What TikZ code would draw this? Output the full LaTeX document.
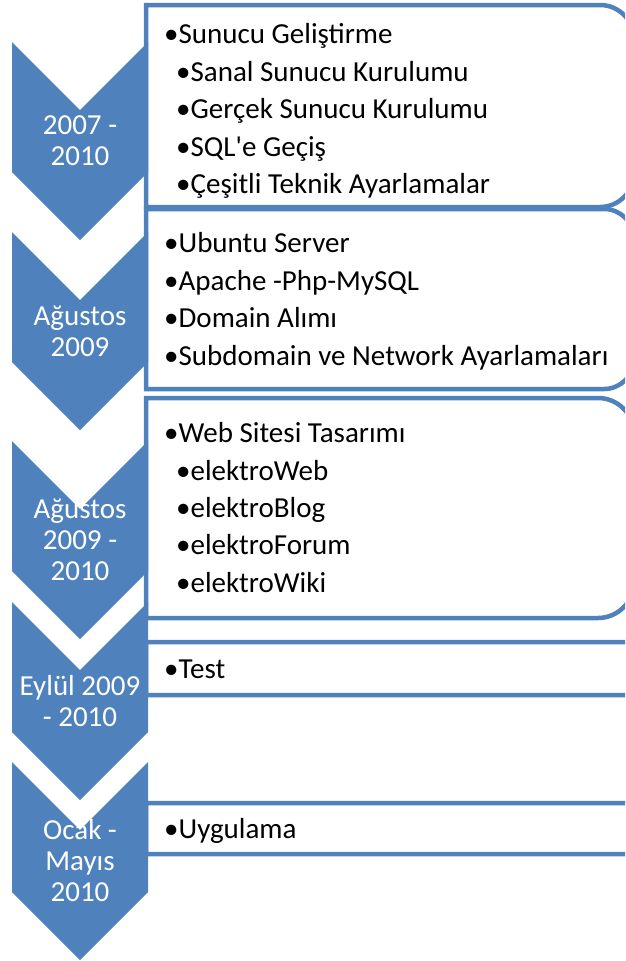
\documentclass[tikz,border=0pt]{standalone}
\usepackage{fontspec}
\setmainfont{Carlito}[Ligatures=TeXOff]
\definecolor{chevblue}{HTML}{4F81BD}
\tikzset{
  chevron/.style={fill=chevblue},
  listbox/.style={draw=chevblue, line width=4.5pt, fill=white},
  datetext/.style={text=white, align=center, inner sep=0pt, font=\fontsize{29}{31}\selectfont},
  itemtext/.style={anchor=base west, inner sep=0pt, font=\fontsize{29}{32}\selectfont},
}
\begin{document}
\begin{tikzpicture}[x=1pt, y=-1pt, line join=miter]
\clip (0,0) rectangle (625,961);
\draw[listbox] (146,5) -- (600,5) arc(-90:0:34) -- (634,173) arc(0:90:34) -- (146,207) -- cycle;
\draw[listbox] (146,209) -- (604,209) arc(-90:0:30) -- (634,359) arc(0:90:30) -- (146,389) -- cycle;
\draw[listbox] (146,398) -- (598,398) arc(-90:0:36) -- (634,582) arc(0:90:36) -- (146,618) -- cycle;
\draw[listbox] (146,642) -- (625,642) arc(-90:0:9) -- (634,686) arc(0:90:9) -- (146,695) -- cycle;
\draw[listbox] (146,803) -- (625,803) arc(-90:0:8.5) -- (634,845.5) arc(0:90:8.5) -- (146,854) -- cycle;
\fill[chevron] (12,42) -- (80,110) -- (148,42) -- (148,172) -- (80,240) -- (12,172) -- cycle;
\fill[chevron] (12,232) -- (80,300) -- (148,232) -- (148,362) -- (80,430) -- (12,362) -- cycle;
\fill[chevron] (12,441) -- (80,509) -- (148,441) -- (148,571) -- (80,639) -- (12,571) -- cycle;
\fill[chevron] (12,602) -- (80,670) -- (148,602) -- (148,732) -- (80,800) -- (12,732) -- cycle;
\fill[chevron] (12,762) -- (80,830) -- (148,762) -- (148,892) -- (80,960) -- (12,892) -- cycle;
\node[datetext] (date1) at (80,141) {2007 -\\2010};
\node[datetext] (date2) at (80,331) {Ağustos\\2009};
\node[datetext] (date3) at (80,540) {Ağustos\\2009 -\\2010};
\node[datetext] (date4) at (80,701) {Eylül 2009\\- 2010};
\node[datetext] (date5) at (80,861) {Ocak -\\Mayıs\\2010};
\node[itemtext] (server) at (164,43.5) {•Sunucu Geliştirme};
\node[itemtext] (virtual) at (176,81) {•Sanal Sunucu Kurulumu};
\node[itemtext] (real) at (176,118.5) {•Gerçek Sunucu Kurulumu};
\node[itemtext] (sql) at (176,156) {•SQL'e Geçiş};
\node[itemtext] (tuning) at (176,193.5) {•Çeşitli Teknik Ayarlamalar};
\node[itemtext] (ubuntu) at (164,252) {•Ubuntu Server};
\node[itemtext] (lamp) at (164,290) {•Apache -Php-MySQL};
\node[itemtext] (domain) at (164,327.5) {•Domain Alımı};
\node[itemtext] (network) at (164,365) {•Subdomain ve Network Ayarlamaları};
\node[itemtext] (website) at (164,442) {•Web Sitesi Tasarımı};
\node[itemtext] (web) at (176,480) {•elektroWeb};
\node[itemtext] (blog) at (176,517) {•elektroBlog};
\node[itemtext] (forum) at (176,554.5) {•elektroForum};
\node[itemtext] (wiki) at (176,592) {•elektroWiki};
\node[itemtext] (test) at (164,678) {•Test};
\node[itemtext] (deploy) at (164,838) {•Uygulama};
\end{tikzpicture}
\end{document}
